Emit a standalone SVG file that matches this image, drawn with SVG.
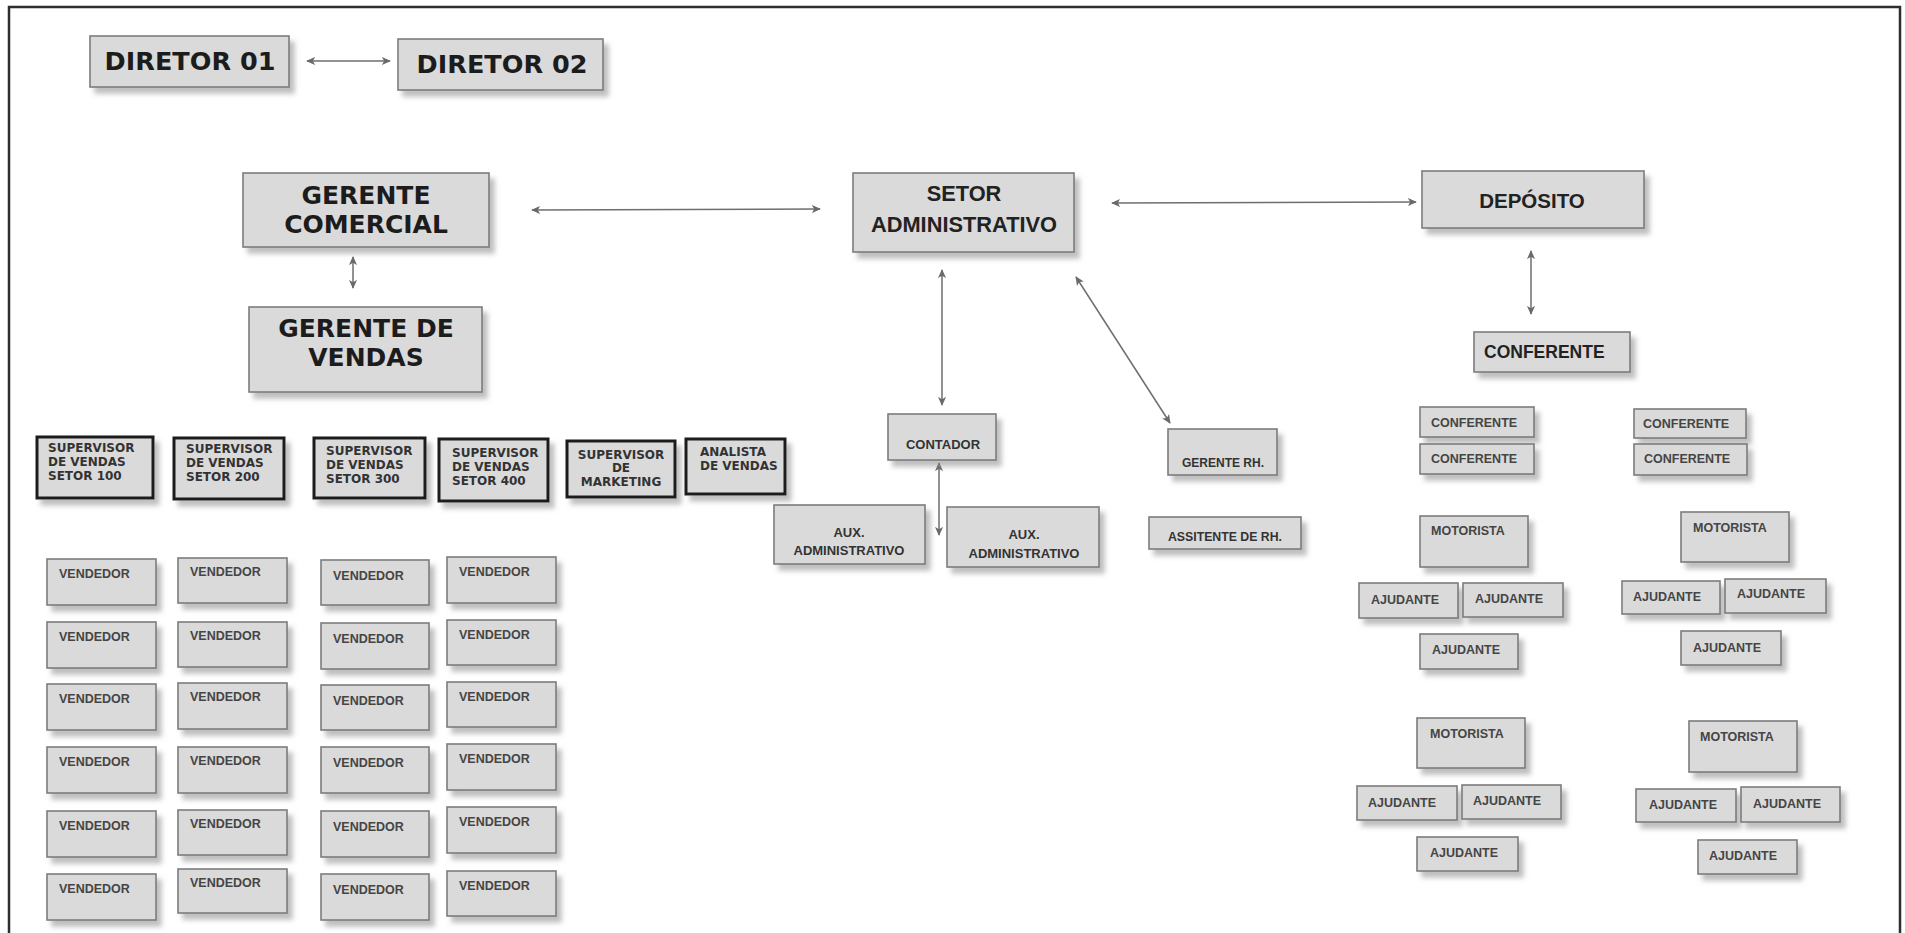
<svg xmlns="http://www.w3.org/2000/svg" width="1905" height="933" viewBox="0 0 1905 933">
<defs>
<filter id="sh" x="-10%" y="-10%" width="130%" height="150%">
<feDropShadow dx="5" dy="6" stdDeviation="2.5" flood-color="#8a8a8a" flood-opacity="0.55"/>
</filter>
<marker id="ah" viewBox="0 0 10 10" refX="9" refY="5" markerWidth="9" markerHeight="9" markerUnits="userSpaceOnUse" orient="auto-start-reverse">
<path d="M0,0.5 L10,5 L0,9.5 L2.5,5 z" fill="#6a6a6a"/>
</marker>
<style>
.box{fill:#dadada;stroke:#7c7c7c;stroke-width:1.6;filter:url(#sh)}
.sup{fill:#dadada;stroke:#1c1c1c;stroke-width:3;filter:url(#sh)}
.conn{stroke:#6e6e6e;stroke-width:1.5;fill:none;marker-start:url(#ah);marker-end:url(#ah)}
.t1{font-family:"DejaVu Sans",Verdana,sans-serif;font-weight:bold;fill:#1c1c1c;text-anchor:middle}
.t2{font-family:"Liberation Sans",Arial,sans-serif;font-weight:bold;fill:#222;text-anchor:middle}
.t2s{font-family:"Liberation Sans",Arial,sans-serif;font-weight:bold;fill:#222;font-size:17.5px}
.sm{font-family:"Liberation Sans",Arial,sans-serif;font-weight:bold;font-size:12.5px;fill:#454545}
.smc{font-family:"Liberation Sans",Arial,sans-serif;font-weight:bold;fill:#333;text-anchor:middle}
.sv{font-family:"DejaVu Sans",Verdana,sans-serif;font-weight:bold;font-size:12px;fill:#333}
.svc{font-family:"DejaVu Sans",Verdana,sans-serif;font-weight:bold;font-size:12px;fill:#333;text-anchor:middle}
</style>
</defs>
<rect width="1905" height="933" fill="#ffffff"/>
<rect x="9" y="7" width="1891" height="960" fill="none" stroke="#2e2e2e" stroke-width="2.5"/>

<g id="connectors">
<line class="conn" x1="307" y1="61" x2="390" y2="61"/>
<line class="conn" x1="532" y1="210" x2="820" y2="209"/>
<line class="conn" x1="1112" y1="203" x2="1416" y2="202"/>
<line class="conn" x1="353" y1="257" x2="353" y2="288"/>
<line class="conn" x1="942" y1="270" x2="942" y2="405"/>
<line class="conn" x1="1076" y1="277" x2="1170" y2="423"/>
<line class="conn" x1="1531" y1="251" x2="1531" y2="314"/>
<line class="conn" x1="939" y1="463" x2="939" y2="535"/>
</g>

<g id="diretor01"><rect class="box" x="90" y="36" width="199" height="51"/><text class="t1" x="190" y="70" font-size="25.5">DIRETOR 01</text></g>
<g id="diretor02"><rect class="box" x="398" y="39" width="205" height="51"/><text class="t1" x="502" y="73" font-size="25.5">DIRETOR 02</text></g>

<g id="gerente-comercial"><rect class="box" x="243" y="173" width="246" height="74"/><text class="t1" x="366" y="204" font-size="25">GERENTE</text><text class="t1" x="366" y="233" font-size="25">COMERCIAL</text></g>
<g id="gerente-vendas"><rect class="box" x="249" y="307" width="233" height="85"/><text class="t1" x="366" y="337" font-size="25">GERENTE DE</text><text class="t1" x="366" y="366" font-size="25">VENDAS</text></g>

<g id="setor-administrativo"><rect class="box" x="853" y="173" width="221" height="79"/><text class="t2" x="964" y="201" font-size="21.8">SETOR</text><text class="t2" x="964" y="232" font-size="21.8">ADMINISTRATIVO</text></g>
<g id="deposito"><rect class="box" x="1422" y="171" width="222" height="57"/><text class="t2" x="1532" y="208" font-size="20.5">DEPÓSITO</text></g>
<g id="conferente"><rect class="box" x="1474" y="332" width="156" height="40"/><text class="t2s" x="1484" y="358">CONFERENTE</text></g>

<g id="contador"><rect class="box" x="888" y="414" width="108" height="46"/><text class="smc" x="943" y="449" font-size="13">CONTADOR</text></g>
<g id="aux-adm-1"><rect class="box" x="774" y="505" width="151" height="59"/><text class="smc" x="849" y="537" font-size="13">AUX.</text><text class="smc" x="849" y="555" font-size="13">ADMINISTRATIVO</text></g>
<g id="aux-adm-2"><rect class="box" x="947" y="507" width="152" height="60"/><text class="smc" x="1024" y="539" font-size="13">AUX.</text><text class="smc" x="1024" y="558" font-size="13">ADMINISTRATIVO</text></g>
<g id="gerente-rh"><rect class="box" x="1168" y="429" width="109" height="46"/><text class="smc" x="1223" y="467" font-size="12">GERENTE RH.</text></g>
<g id="assistente-rh"><rect class="box" x="1149" y="517" width="152" height="32"/><text class="smc" x="1225" y="541" font-size="12.3">ASSITENTE DE RH.</text></g>

<g id="sup-100"><rect class="sup" x="37" y="437" width="116" height="61"/><text class="sv" x="48" y="452">SUPERVISOR</text><text class="sv" x="48" y="466">DE VENDAS</text><text class="sv" x="48" y="480">SETOR 100</text></g>
<g id="sup-200"><rect class="sup" x="174" y="438" width="110" height="61"/><text class="sv" x="186" y="453">SUPERVISOR</text><text class="sv" x="186" y="467">DE VENDAS</text><text class="sv" x="186" y="481">SETOR 200</text></g>
<g id="sup-300"><rect class="sup" x="314" y="438" width="111" height="60"/><text class="sv" x="326" y="455">SUPERVISOR</text><text class="sv" x="326" y="469">DE VENDAS</text><text class="sv" x="326" y="483">SETOR 300</text></g>
<g id="sup-400"><rect class="sup" x="439" y="439" width="109" height="62"/><text class="sv" x="452" y="457">SUPERVISOR</text><text class="sv" x="452" y="471">DE VENDAS</text><text class="sv" x="452" y="485">SETOR 400</text></g>
<g id="sup-marketing"><rect class="sup" x="567" y="441" width="108" height="56"/><text class="svc" x="621" y="459">SUPERVISOR</text><text class="svc" x="621" y="472">DE</text><text class="svc" x="621" y="486">MARKETING</text></g>
<g id="analista-vendas"><rect class="sup" x="686" y="439" width="99" height="55"/><text class="sv" x="700" y="456">ANALISTA</text><text class="sv" x="700" y="470">DE VENDAS</text></g>

<g id="vendedor-1-1"><rect class="box" x="47" y="559" width="109" height="46"/><text class="sm" x="59" y="578">VENDEDOR</text></g>
<g id="vendedor-1-2"><rect class="box" x="47" y="622" width="109" height="46"/><text class="sm" x="59" y="641">VENDEDOR</text></g>
<g id="vendedor-1-3"><rect class="box" x="47" y="684" width="109" height="46"/><text class="sm" x="59" y="703">VENDEDOR</text></g>
<g id="vendedor-1-4"><rect class="box" x="47" y="747" width="109" height="46"/><text class="sm" x="59" y="766">VENDEDOR</text></g>
<g id="vendedor-1-5"><rect class="box" x="47" y="811" width="109" height="46"/><text class="sm" x="59" y="830">VENDEDOR</text></g>
<g id="vendedor-1-6"><rect class="box" x="47" y="874" width="109" height="46"/><text class="sm" x="59" y="893">VENDEDOR</text></g>

<g id="vendedor-2-1"><rect class="box" x="178" y="558" width="109" height="45"/><text class="sm" x="190" y="576">VENDEDOR</text></g>
<g id="vendedor-2-2"><rect class="box" x="178" y="622" width="109" height="45"/><text class="sm" x="190" y="640">VENDEDOR</text></g>
<g id="vendedor-2-3"><rect class="box" x="178" y="683" width="109" height="46"/><text class="sm" x="190" y="701">VENDEDOR</text></g>
<g id="vendedor-2-4"><rect class="box" x="178" y="747" width="109" height="46"/><text class="sm" x="190" y="765">VENDEDOR</text></g>
<g id="vendedor-2-5"><rect class="box" x="178" y="810" width="109" height="45"/><text class="sm" x="190" y="828">VENDEDOR</text></g>
<g id="vendedor-2-6"><rect class="box" x="178" y="869" width="109" height="44"/><text class="sm" x="190" y="887">VENDEDOR</text></g>

<g id="vendedor-3-1"><rect class="box" x="321" y="560" width="108" height="45"/><text class="sm" x="333" y="580">VENDEDOR</text></g>
<g id="vendedor-3-2"><rect class="box" x="321" y="623" width="108" height="46"/><text class="sm" x="333" y="643">VENDEDOR</text></g>
<g id="vendedor-3-3"><rect class="box" x="321" y="685" width="108" height="45"/><text class="sm" x="333" y="705">VENDEDOR</text></g>
<g id="vendedor-3-4"><rect class="box" x="321" y="747" width="108" height="46"/><text class="sm" x="333" y="767">VENDEDOR</text></g>
<g id="vendedor-3-5"><rect class="box" x="321" y="811" width="108" height="46"/><text class="sm" x="333" y="831">VENDEDOR</text></g>
<g id="vendedor-3-6"><rect class="box" x="321" y="874" width="108" height="46"/><text class="sm" x="333" y="894">VENDEDOR</text></g>

<g id="vendedor-4-1"><rect class="box" x="447" y="557" width="109" height="46"/><text class="sm" x="459" y="576">VENDEDOR</text></g>
<g id="vendedor-4-2"><rect class="box" x="447" y="620" width="109" height="45"/><text class="sm" x="459" y="639">VENDEDOR</text></g>
<g id="vendedor-4-3"><rect class="box" x="447" y="682" width="109" height="45"/><text class="sm" x="459" y="701">VENDEDOR</text></g>
<g id="vendedor-4-4"><rect class="box" x="447" y="744" width="109" height="46"/><text class="sm" x="459" y="763">VENDEDOR</text></g>
<g id="vendedor-4-5"><rect class="box" x="447" y="807" width="109" height="46"/><text class="sm" x="459" y="826">VENDEDOR</text></g>
<g id="vendedor-4-6"><rect class="box" x="447" y="871" width="109" height="45"/><text class="sm" x="459" y="890">VENDEDOR</text></g>

<g id="conferente-1"><rect class="box" x="1420" y="407" width="114" height="30"/><text class="sm" x="1431" y="427">CONFERENTE</text></g>
<g id="conferente-2"><rect class="box" x="1420" y="444" width="114" height="30"/><text class="sm" x="1431" y="463">CONFERENTE</text></g>
<g id="conferente-3"><rect class="box" x="1634" y="409" width="112" height="29"/><text class="sm" x="1643" y="428">CONFERENTE</text></g>
<g id="conferente-4"><rect class="box" x="1634" y="444" width="113" height="31"/><text class="sm" x="1644" y="463">CONFERENTE</text></g>

<g id="motorista-1"><rect class="box" x="1420" y="516" width="108" height="51"/><text class="sm" x="1431" y="535">MOTORISTA</text></g>
<g id="ajudante-1a"><rect class="box" x="1359" y="583" width="99" height="35"/><text class="sm" x="1371" y="604">AJUDANTE</text></g>
<g id="ajudante-1b"><rect class="box" x="1463" y="583" width="100" height="34"/><text class="sm" x="1475" y="603">AJUDANTE</text></g>
<g id="ajudante-1c"><rect class="box" x="1420" y="634" width="98" height="35"/><text class="sm" x="1432" y="654">AJUDANTE</text></g>

<g id="motorista-2"><rect class="box" x="1681" y="512" width="108" height="50"/><text class="sm" x="1693" y="532">MOTORISTA</text></g>
<g id="ajudante-2a"><rect class="box" x="1622" y="581" width="98" height="33"/><text class="sm" x="1633" y="601">AJUDANTE</text></g>
<g id="ajudante-2b"><rect class="box" x="1725" y="579" width="101" height="34"/><text class="sm" x="1737" y="598">AJUDANTE</text></g>
<g id="ajudante-2c"><rect class="box" x="1681" y="631" width="100" height="34"/><text class="sm" x="1693" y="652">AJUDANTE</text></g>

<g id="motorista-3"><rect class="box" x="1417" y="718" width="108" height="50"/><text class="sm" x="1430" y="738">MOTORISTA</text></g>
<g id="ajudante-3a"><rect class="box" x="1357" y="786" width="100" height="34"/><text class="sm" x="1368" y="807">AJUDANTE</text></g>
<g id="ajudante-3b"><rect class="box" x="1462" y="785" width="99" height="34"/><text class="sm" x="1473" y="805">AJUDANTE</text></g>
<g id="ajudante-3c"><rect class="box" x="1417" y="837" width="101" height="34"/><text class="sm" x="1430" y="857">AJUDANTE</text></g>

<g id="motorista-4"><rect class="box" x="1689" y="721" width="108" height="51"/><text class="sm" x="1700" y="741">MOTORISTA</text></g>
<g id="ajudante-4a"><rect class="box" x="1636" y="789" width="100" height="33"/><text class="sm" x="1649" y="809">AJUDANTE</text></g>
<g id="ajudante-4b"><rect class="box" x="1741" y="787" width="99" height="35"/><text class="sm" x="1753" y="808">AJUDANTE</text></g>
<g id="ajudante-4c"><rect class="box" x="1698" y="840" width="99" height="34"/><text class="sm" x="1709" y="860">AJUDANTE</text></g>
</svg>
